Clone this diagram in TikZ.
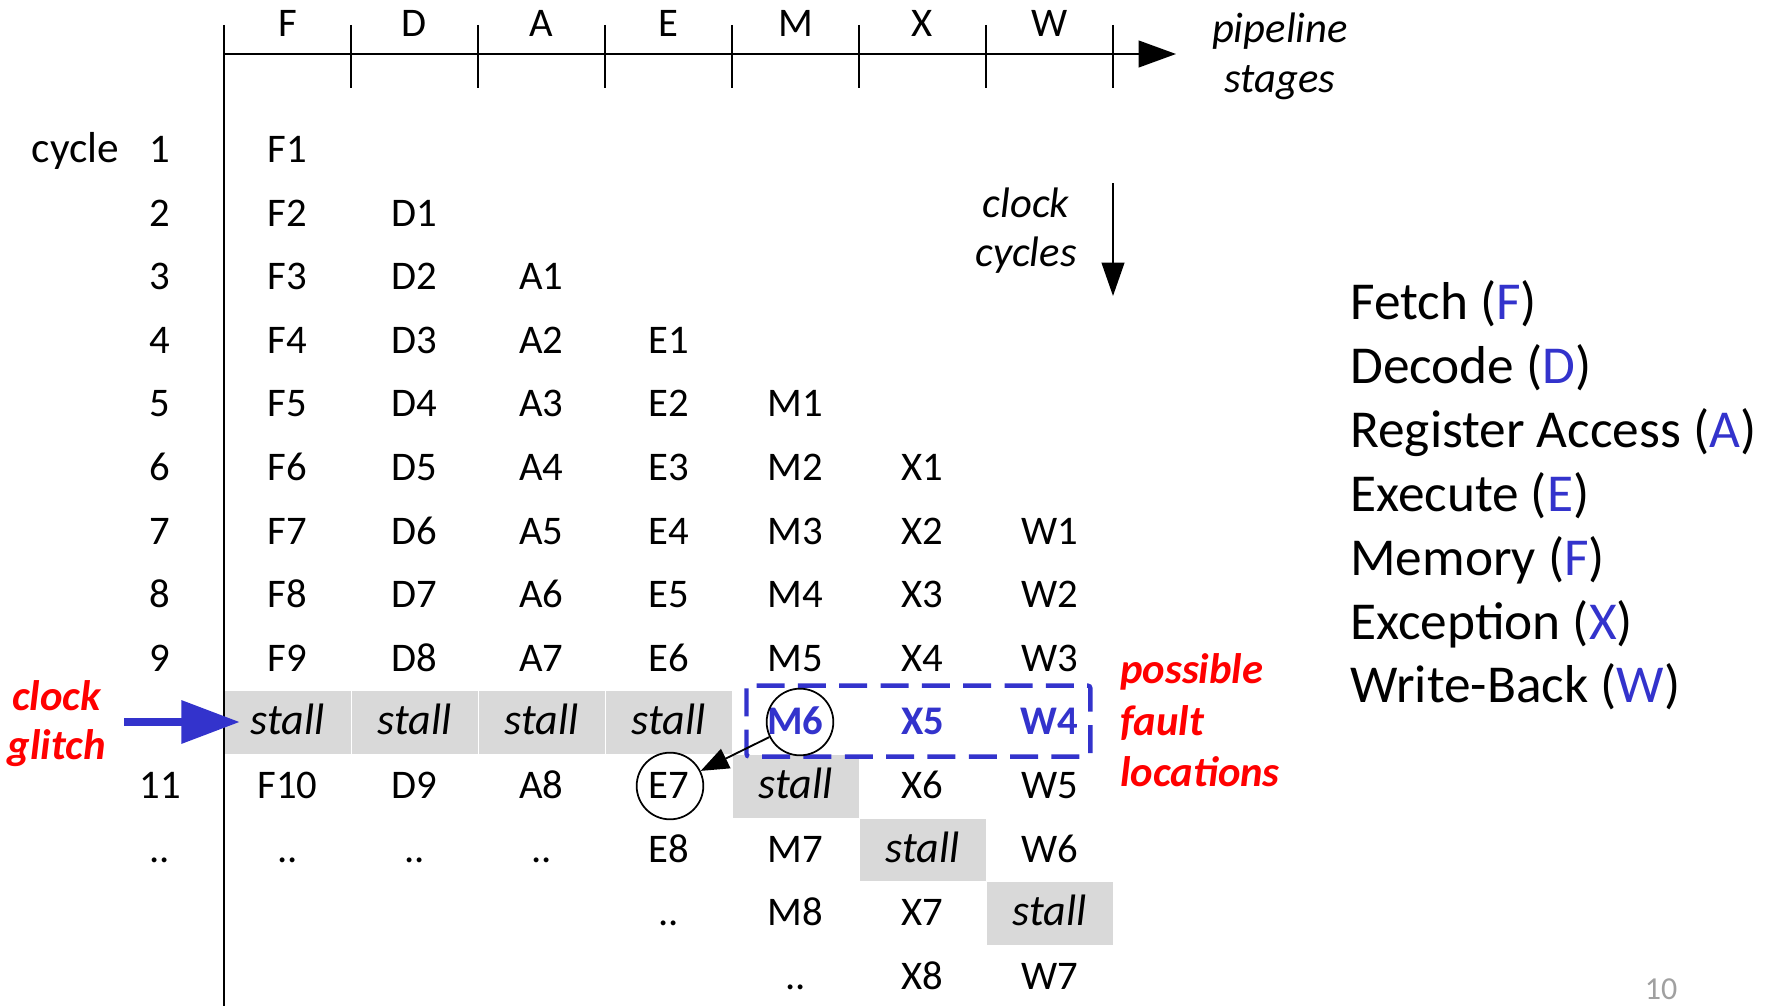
\documentclass[tikz,border=0pt]{standalone}
\usepackage{fontspec}
\setmainfont{Carlito}
\usetikzlibrary{arrows.meta}
\definecolor{stageblue}{HTML}{3333CC}
\definecolor{faultred}{HTML}{FF0000}
\definecolor{stallgray}{HTML}{D9D9D9}
\definecolor{pagegray}{HTML}{A0A0A0}
\begin{document}
\begin{tikzpicture}[x=0.75pt,y=-0.75pt,
  cell/.style={anchor=base, inner sep=0pt, font=\fontsize{30.5}{36}\selectfont},
  stallcell/.style={cell, font=\fontsize{33}{38}\selectfont\itshape},
  faultcell/.style={cell, text=stageblue, font=\fontsize{30.5}{36}\selectfont\bfseries},
  note/.style={anchor=base, inner sep=0pt, font=\fontsize{32}{38}\selectfont\itshape},
  rednote/.style={anchor=base west, inner sep=0pt, text=faultred, font=\fontsize{32}{38}\selectfont\bfseries\itshape},
  legend/.style={anchor=base west, inner sep=0pt, font=\fontsize{40}{48}\selectfont},
  ring/.style={draw, circle, line width=1.3pt, minimum size=50pt, inner sep=0pt},
  stallbox/.style={fill=stallgray, draw=white, line width=0.4pt}
]
\useasboundingbox (0,0) rectangle (1768,1006);

% shaded stall cells
\foreach \x/\y in {224/690.6, 351/690.6, 478/690.6, 605/690.6, 732/754.2, 859/817.8, 986/881.4}
  \path[stallbox] (\x,\y) rectangle ++(127,63.6);

% axes and stage ticks
\draw[line width=1.5pt] (224,25) -- (224,1006);
\coordinate (haxis0) at (224,54);
\coordinate (haxis1) at (1176,54);
\draw[line width=1.5pt, -{Triangle[length=28pt,width=20pt]}] (haxis0) -- (haxis1);
\foreach \k in {1,...,7}
  \draw[line width=1.1pt] ({224+\k*127},25) -- ({224+\k*127},88);

% stage headers
\foreach \c/\s in {1/F,2/D,3/A,4/E,5/M,6/X,7/W}
  \node[cell] (hd\s) at ({287.5+(\c-1)*127},37) {\s};

\node[note] (pipeA) at (1280,43) {pipeline};
\node[note] (pipeB) at (1280,92.5) {stages};

% clock cycle direction
\coordinate (cyc0) at (1113,183);
\coordinate (cyc1) at (1113,296);
\draw[line width=1.5pt, -{Triangle[length=25pt,width=17pt]}] (cyc0) -- (cyc1);
\node[note] (cycA) at (1026,217.5) {clock};
\node[note] (cycB) at (1026,266) {cycles};

% cycle numbers
\node[cell, font=\fontsize{32.5}{38}\selectfont] (cyclelabel) at (75.5,162.5) {cycle};
\foreach \r/\t in {1/1,2/2,3/3,4/4,5/5,6/6,7/7,8/8,9/9,11/11,12/{..}}
  \node[cell] (num\r) at (160,{162.5+(\r-1)*63.6}) {\t};

% instruction table
\foreach \r/\c/\t in {
  1/1/F1,
  2/1/F2, 2/2/D1,
  3/1/F3, 3/2/D2, 3/3/A1,
  4/1/F4, 4/2/D3, 4/3/A2, 4/4/E1,
  5/1/F5, 5/2/D4, 5/3/A3, 5/4/E2, 5/5/M1,
  6/1/F6, 6/2/D5, 6/3/A4, 6/4/E3, 6/5/M2, 6/6/X1,
  7/1/F7, 7/2/D6, 7/3/A5, 7/4/E4, 7/5/M3, 7/6/X2, 7/7/W1,
  8/1/F8, 8/2/D7, 8/3/A6, 8/4/E5, 8/5/M4, 8/6/X3, 8/7/W2,
  9/1/F9, 9/2/D8, 9/3/A7, 9/4/E6, 9/5/M5, 9/6/X4, 9/7/W3,
  11/1/F10, 11/2/D9, 11/3/A8, 11/4/E7, 11/6/X6, 11/7/W5,
  12/1/.., 12/2/.., 12/3/.., 12/4/E8, 12/5/M7, 12/7/W6,
  13/4/.., 13/5/M8, 13/6/X7,
  14/5/.., 14/6/X8, 14/7/W7}
  \node[cell] (t\r-\c) at ({287.5+(\c-1)*127},{162.5+(\r-1)*63.6}) {\t};

% stalls
\foreach \r/\c in {10/1,10/2,10/3,10/4,11/5,12/6,13/7}
  \node[stallcell] (t\r-\c) at ({287.5+(\c-1)*127},{162.5+(\r-1)*63.6}) {stall};

% faulty row
\foreach \c/\t in {5/M6,6/X5,7/W4}
  \node[faultcell] (t10-\c) at ({287.5+(\c-1)*127},{162.5+9*63.6}) {\t};

% fault region
\draw[stageblue, line width=3.3pt, dash pattern=on 21pt off 10pt, rounded corners=2pt]
  (746.5,685.6) rectangle (1090.4,756.6);

% circled instructions and propagation arrow
\node[ring] (ringM6) at (800,722) {};
\node[ring] (ringE7) at (670,786) {};
\draw[line width=1.4pt, -{Triangle[length=21pt,width=16pt]}] (ringM6) -- (ringE7);

% clock glitch marker
\coordinate (glitchtail) at (124,722);
\coordinate (glitchtip) at (240,722);
\draw[stageblue, line width=6.5pt, -{Triangle[length=44pt,width=31pt]}] (glitchtail) -- (glitchtip);
\node[rednote, anchor=base] (glitchA) at (56.5,710) {clock};
\node[rednote, anchor=base] (glitchB) at (56.5,759) {glitch};

\node[rednote] (faultA) at (1120,683) {possible};
\node[rednote] (faultB) at (1120,735) {fault};
\node[rednote] (faultC) at (1120,786) {locations};

% legend
\node[legend] (lgF) at (1350,319) {Fetch (\textcolor{stageblue}{F})};
\node[legend] (lgD) at (1350,383.5) {Decode (\textcolor{stageblue}{D})};
\node[legend] (lgA) at (1350,447.5) {Register Access (\textcolor{stageblue}{A})};
\node[legend] (lgE) at (1350,511) {Execute (\textcolor{stageblue}{E})};
\node[legend] (lgM) at (1350,575) {Memory (\textcolor{stageblue}{F})};
\node[legend] (lgX) at (1350,639) {Exception (\textcolor{stageblue}{X})};
\node[legend] (lgW) at (1350,702.5) {Write-Back (\textcolor{stageblue}{W})};

% slide number
\node[anchor=base, inner sep=0pt, text=pagegray, font=\fontsize{24}{28}\selectfont] (pageno) at (1661,999) {10};
\end{tikzpicture}
\end{document}
